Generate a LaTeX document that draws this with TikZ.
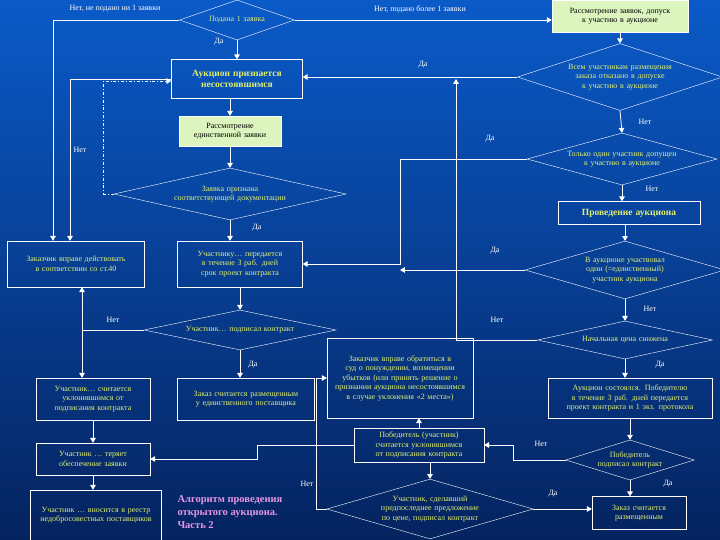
\documentclass[tikz,border=0pt]{standalone}
\usepackage{fontspec}
\setmainfont{Liberation Serif}
\usetikzlibrary{arrows.meta,shapes.geometric}
\definecolor{txtyel}{RGB}{225,240,110}
\definecolor{boxgreen}{RGB}{220,245,190}
\definecolor{bgtop}{RGB}{10,90,200}
\definecolor{bgbot}{RGB}{5,35,95}
\definecolor{titlepink}{RGB}{230,150,230}
\tikzset{
  >=Triangle,
  box/.style={draw=white,thin,text=txtyel,align=center,inner sep=1pt,
    minimum width=#1,text width=#1-6pt,font=\fontsize{8}{9.5}\selectfont},
  box/.default=120pt,
  gbox/.style={box=#1,fill=boxgreen,text=black},
  gbox/.default=120pt,
  bbox/.style={box=#1,font=\bfseries\fontsize{9.5}{11.5}\selectfont},
  dia/.code 2 args={%
    \pgfmathsetmacro\diaasp{#1/#2}%
    \pgfmathsetmacro\diatw{#1*0.58}%
    \tikzset{diamond,draw=white,thin,text=txtyel,align=center,
      inner sep=0pt,minimum width=#1pt,minimum height=#2pt,aspect=\diaasp,
      text width=\diatw pt,font=\fontsize{8}{9.5}\selectfont}},
  lbl/.style={text=white,font=\fontsize{8}{9}\selectfont},
  arr/.style={->,white,thick},
  ln/.style={white,thick}
}
\begin{document}
\begin{tikzpicture}[x=1pt,y=-1pt]
  \shade[top color=bgtop,bottom color=bgbot] (0,0) rectangle (720,540);
  \useasboundingbox (0,0) rectangle (720,540);

  % top row
  \node (d1) [dia={115}{40}] at (237,20) {Подана 1 заявка};
  \node (rev) [gbox=136pt,minimum height=32pt] at (620,16) {Рассмотрение заявок, допуск к участию в аукционе};
  \node (fail) [bbox=131pt,minimum height=39pt] at (237,79) {Аукцион признается несостоявшимся};
  \node (d2) [dia={205}{67}] at (620,77) {Всем участникам размещения заказа отказано в допуске к участию в аукционе};
  \node (single) [gbox=102pt,minimum height=30pt] at (230,131) {Рассмотрение единственной заявки};
  \node (d4) [dia={232}{52}] at (230,194) {Заявка признана соответствующей документации};
  \node (d3) [dia={190}{52}] at (622,159) {Только один участник допущен к участию в аукционе};
  \node (run) [bbox=142pt,minimum height=23pt] at (629,213) {Проведение аукциона};

  % middle
  \node (d5) [dia={190}{55}] at (625,270) {В аукционе участвовал один (=единственный) участник аукциона};
  \node (d6) [dia={175}{38}] at (625,340) {Начальная цена снижена};
  \node (held) [box=164pt,minimum height=40pt] at (630,398) {Аукцион состоялся. Победителю в течение 3 раб. дней передается проект контракта и 1 экз. протокола};
  \node (d7) [dia={128}{40}] at (630,460) {Победитель подписал контракт};
  \node (placed2) [box=94pt,minimum height=33pt] at (639,513) {Заказ считается размещенным};

  \node (cust40) [box=137pt,minimum height=46pt] at (76,264) {Заказчик вправе действовать в соответствии со ст.40};
  \node (offer) [box=125pt,minimum height=46pt] at (240,264) {Участнику… передается в течение 3 раб. дней срок проект контракта};
  \node (d9) [dia={192}{40}] at (240,330) {Участник… подписал контракт};
  \node (placedS) [box=137pt,minimum height=42pt] at (246,399) {Заказ считается размещенным у единственного поставщика};
  \node (evade) [box=114pt,minimum height=42pt] at (93,399) {Участник… считается уклонившимся от подписания контракта};
  \node (lose) [box=114pt,minimum height=32pt] at (93,459) {Участник … теряет обеспечение заявки};
  \node (reg) [box=131pt,minimum height=50pt] at (96,515) {Участник … вносится в реестр недобросовестных поставщиков};
  \node (court) [box=146pt,minimum height=80pt] at (400,378) {Заказчик вправе обратиться в суд о понуждении, возмещении убытков (или принять решение о признании аукциона несостоявшимся в случае уклонения «2 места»)};
  \node (winner) [box=130pt,minimum height=34pt] at (419,445) {Победитель (участник) считается уклонившимся от подписания контракта};
  \node (d8) [dia={200}{58}] at (430,509) {Участник, сделавший предпоследнее предложение по цене, подписал контракт};

  \node (title) [anchor=west,text=titlepink,align=left,font=\bfseries\fontsize{10.5}{13}\selectfont] at (174,512) {Алгоритм проведения\\открытого аукциона.\\Часть 2};

  \coordinate (jDa) at (400,200);
  \coordinate (jNo) at (456,300);
  \coordinate (jL) at (82,330);

  % connectors
  \draw[arr] (d1.west) -| ([xshift=-23pt]cust40.north);
  \draw[arr] (fail.west) -| ([xshift=-6pt]cust40.north);
  \draw[arr] (d1.east) -- (d1.east -| rev.west);
  \draw[arr] (d1.south) -- (fail.north);
  \draw[arr] (rev.south) -- (d2.north);
  \draw[arr] (d2.west) -- (d2.west -| fail.east);
  \draw[arr] (fail.south -| single) -- (single.north);
  \draw[arr] (single.south) -- (d4.north);
  \draw[arr,dash dot] (d4.west) -- ++(-10,0) |- ([yshift=-2pt]fail.west);
  \draw[arr] (d4.south) -- (d4.south |- offer.north);
  \draw[arr] (d2.south) -- (d3.north);
  \draw[arr] (d3.south) -- (d3.south |- run.north);
  \draw[arr] (d3.west) -- (d3.west -| jDa) |- (offer.east);
  \draw[arr] (d5.west) -- (d5.west -| jDa);
  \draw[arr] (run.south -| d5) -- (d5.north);
  \draw[arr] (d5.south) -- (d6.north);
  \draw[arr] (d6.west) -- (d6.west -| jNo) -- (jNo |- fail.east);
  \draw[arr] (d6.south) -- (d6.south |- held.north);
  \draw[arr] (held.south) -- (d7.north);
  \draw[arr] (d7.south) -- (d7.south |- placed2.north);
  \draw[arr] (d7.west) -- ++(-52,0) |- (winner.east);
  \draw[arr] (offer.south) -- (d9.north);
  \draw[arr] (d9.south) -- (d9.south |- placedS.north);
  \draw[ln] (d9.west) -- (d9.west -| jL);
  \draw[arr] (jL) -- (jL |- cust40.south);
  \draw[arr] (jL) -- (jL |- evade.north);
  \draw[arr] (evade.south) -- (lose.north);
  \draw[arr] (lose.south) -- (lose.south |- reg.north);
  \draw[arr] (winner.west) -- ++(-96,0) |- (lose.east);
  \draw[arr] (winner.north) -- (winner.north |- court.south);
  \draw[arr] (winner.south -| d8) -- (d8.north);
  \draw[arr] (d8.west) -- ++(-10,0) |- (court.west);
  \draw[arr] (d8.east) -- (d8.east -| placed2.west);

  % labels
  \node (l1) [lbl] at (115,9) {Нет, не подано ни 1 заявки};
  \node (l2) [lbl] at (420,9) {Нет, подано более 1 заявки};
  \node (l3) [lbl] at (219,42) {Да};
  \node (l4) [lbl] at (423,65) {Да};
  \node (l5) [lbl] at (80,150) {Нет};
  \node (l6) [lbl] at (490,139) {Да};
  \node (l7) [lbl] at (645,122) {Нет};
  \node (l8) [lbl] at (652,189) {Нет};
  \node (l9) [lbl] at (257,228) {Да};
  \node (l10) [lbl] at (495,251) {Да};
  \node (l11) [lbl] at (650,309) {Нет};
  \node (l12) [lbl] at (113,320) {Нет};
  \node (l13) [lbl] at (497,320) {Нет};
  \node (l14) [lbl] at (253,365) {Да};
  \node (l15) [lbl] at (660,365) {Да};
  \node (l16) [lbl] at (541,444) {Нет};
  \node (l17) [lbl] at (307,484) {Нет};
  \node (l18) [lbl] at (553,494) {Да};
  \node (l19) [lbl] at (668,484) {Да};
\end{tikzpicture}
\end{document}
